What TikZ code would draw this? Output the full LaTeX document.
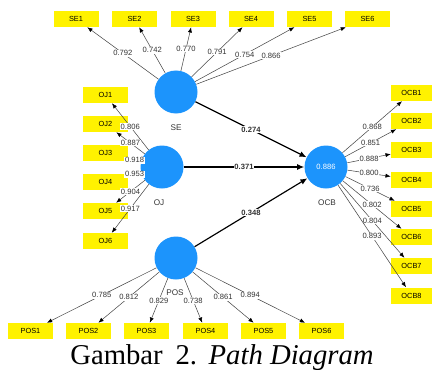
\documentclass[tikz,border=0pt]{standalone}
\usepackage{fontspec}
\setmainfont{Liberation Serif}
\setsansfont{Liberation Sans}
\usepackage{tikz}
\usetikzlibrary{arrows.meta}
\definecolor{lvblue}{RGB}{28,148,252}
\definecolor{loadgray}{RGB}{70,70,70}

\begin{document}
\begin{tikzpicture}[x=0.03cm,y=-0.03cm,
    ind/.style={fill=yellow,inner sep=0pt,minimum width=1.35cm,minimum height=0.48cm,
      font=\sffamily\fontsize{6.3}{7}\selectfont},
    ocbind/.style={ind,minimum width=1.23cm},
    lv/.style={circle,fill=lvblue,inner sep=0pt,minimum size=1.29cm,
      text=white,font=\sffamily\fontsize{6.5}{7}\selectfont},
    lvname/.style={text=black!80,font=\sffamily\fontsize{7}{8}\selectfont},
    load/.style={draw=loadgray,line width=0.45pt,-{Latex[black,length=4.5pt,width=3.5pt]}},
    inner/.style={draw=black,line width=1pt,-{Latex[black,length=6pt,width=5pt]}},
    lbl/.style={fill=white,inner sep=0.6pt,text=black!80,font=\sffamily\fontsize{6.5}{7}\selectfont},
    blbl/.style={lbl,font=\sffamily\bfseries\fontsize{6.5}{7}\selectfont}]
    \useasboundingbox (0,0) rectangle (432,369);
    % LATENT VARIABLES
    \node[lv] (SE) at (176,92) {};
    \node[lv] (OJ) at (162,167) {};
    \node[lv] (POS) at (176,258) {};
    \node[lv] (OCB) at (326,167) {0.886};
    \node[lvname] (SEname) at (176,128) {SE};
    \node[lvname] (OJname) at (159,203) {OJ};
    \node[lvname] (POSname) at (175,293) {POS};
    \node[lvname] (OCBname) at (327,203) {OCB};
    % SE INDICATORS
    \node[ind] (SE1) at (76,19) {SE1};
    \node[ind] (SE2) at (134.5,19) {SE2};
    \node[ind] (SE3) at (193,19) {SE3};
    \node[ind] (SE4) at (251,19) {SE4};
    \node[ind] (SE5) at (309.5,19) {SE5};
    \node[ind] (SE6) at (367.5,19) {SE6};
    % OJ INDICATORS
    \node[ind] (OJ1) at (105.5,95) {OJ1};
    \node[ind] (OJ2) at (105.5,124) {OJ2};
    \node[ind] (OJ3) at (105.5,153) {OJ3};
    \node[ind] (OJ4) at (105.5,182) {OJ4};
    \node[ind] (OJ5) at (105.5,211) {OJ5};
    \node[ind] (OJ6) at (105.5,241) {OJ6};
    % POS INDICATORS
    \node[ind] (POS1) at (30.5,331) {POS1};
    \node[ind] (POS2) at (88.5,331) {POS2};
    \node[ind] (POS3) at (146.5,331) {POS3};
    \node[ind] (POS4) at (205.5,331) {POS4};
    \node[ind] (POS5) at (263.5,331) {POS5};
    \node[ind] (POS6) at (321.5,331) {POS6};
    % OCB INDICATORS
    \node[ocbind] (OCB1) at (411.5,93) {OCB1};
    \node[ocbind] (OCB2) at (411.5,121) {OCB2};
    \node[ocbind] (OCB3) at (411.5,150) {OCB3};
    \node[ocbind] (OCB4) at (411.5,179.5) {OCB4};
    \node[ocbind] (OCB5) at (411.5,209) {OCB5};
    \node[ocbind] (OCB6) at (411.5,237) {OCB6};
    \node[ocbind] (OCB7) at (411.5,266) {OCB7};
    \node[ocbind] (OCB8) at (411.5,295.5) {OCB8};
    % LOADINGS
    \draw[load] (SE) -- (SE1) node[lbl,midway] {0.792};
    \draw[load] (SE) -- (SE2) node[lbl,midway] {0.742};
    \draw[load] (SE) -- (SE3) node[lbl,midway] {0.770};
    \draw[load] (SE) -- (SE4) node[lbl,midway] {0.791};
    \draw[load] (SE) -- (SE5) node[lbl,midway] {0.754};
    \draw[load] (SE) -- (SE6) node[lbl,midway] {0.866};
    \draw[load] (OJ) -- (OJ1) node[lbl,midway] {0.806};
    \draw[load] (OJ) -- (OJ2) node[lbl,midway] {0.887};
    \draw[load] (OJ) -- (OJ3) node[lbl,midway] {0.918};
    \draw[load] (OJ) -- (OJ4) node[lbl,midway] {0.953};
    \draw[load] (OJ) -- (OJ5) node[lbl,midway] {0.904};
    \draw[load] (OJ) -- (OJ6) node[lbl,midway] {0.917};
    \draw[load] (POS) -- (POS1) node[lbl,midway] {0.785};
    \draw[load] (POS) -- (POS2) node[lbl,midway] {0.812};
    \draw[load] (POS) -- (POS3) node[lbl,midway] {0.829};
    \draw[load] (POS) -- (POS4) node[lbl,midway] {0.738};
    \draw[load] (POS) -- (POS5) node[lbl,midway] {0.861};
    \draw[load] (POS) -- (POS6) node[lbl,midway] {0.894};
    \draw[load] (OCB) -- (OCB1) node[lbl,midway] {0.868};
    \draw[load] (OCB) -- (OCB2) node[lbl,midway] {0.851};
    \draw[load] (OCB) -- (OCB3) node[lbl,midway] {0.888};
    \draw[load] (OCB) -- (OCB4) node[lbl,midway] {0.800};
    \draw[load] (OCB) -- (OCB5) node[lbl,midway] {0.736};
    \draw[load] (OCB) -- (OCB6) node[lbl,midway] {0.802};
    \draw[load] (OCB) -- (OCB7) node[lbl,midway] {0.804};
    \draw[load] (OCB) -- (OCB8) node[lbl,midway] {0.893};
    % PATHS
    \draw[inner] (SE) -- (OCB) node[blbl,midway] {0.274};
    \draw[inner] (OJ) -- (OCB) node[blbl,midway] {0.371};
    \draw[inner] (POS) -- (OCB) node[blbl,midway] {0.348};
    % CAPTION
    \node[anchor=base,inner sep=0pt,font=\fontsize{24.5}{28}\selectfont] (caption) at (222,364)
      {Gambar\hspace{0.45em}2.\hspace{0.4em}\textit{Path Diagram}};
\end{tikzpicture}
\end{document}
